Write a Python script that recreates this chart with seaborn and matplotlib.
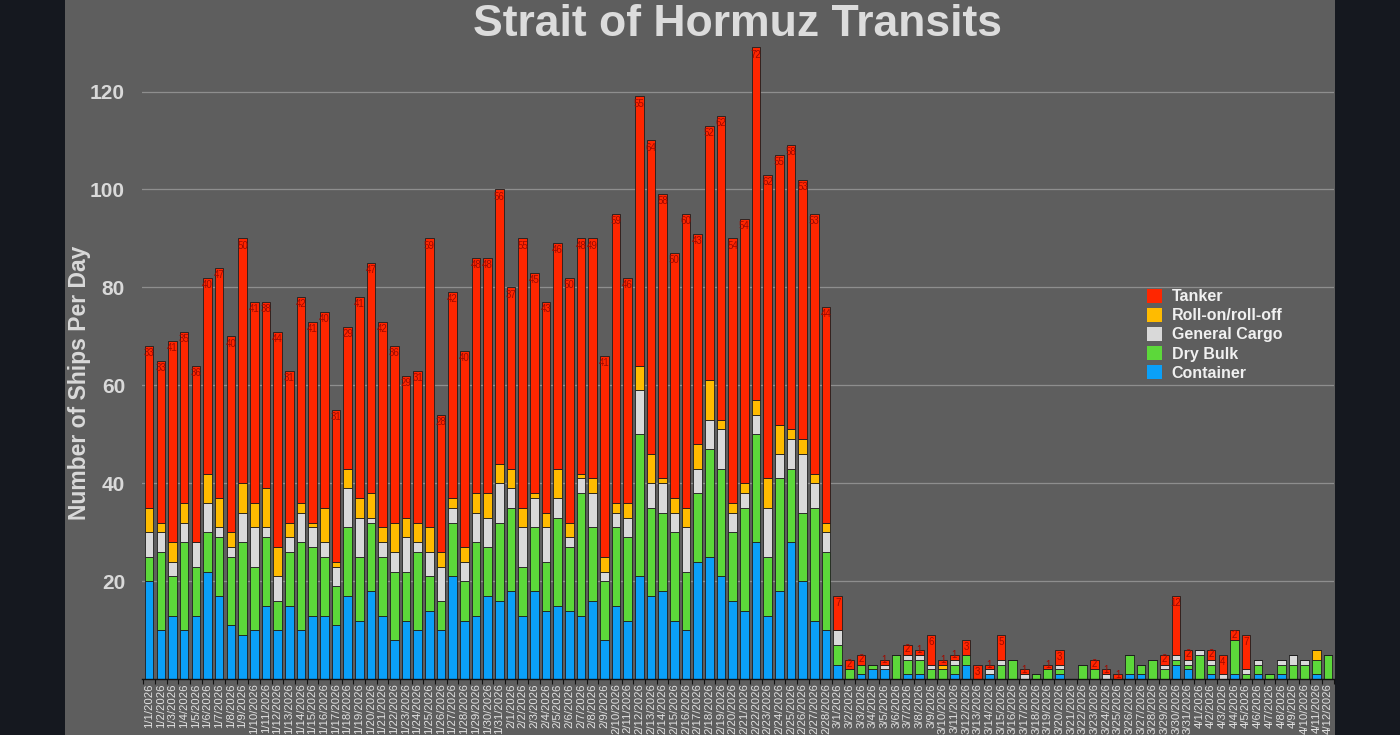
import matplotlib
matplotlib.use('Agg')
import matplotlib.pyplot as plt
from matplotlib.patches import Patch, Rectangle
import numpy as np
import pandas as pd
import seaborn as sns

# Days 1/1/2026 .. 4/12/2026
dates = pd.date_range('2026-01-01', '2026-04-12', freq='D')
date_labels = [f"{d.month}/{d.day}/{d.year}" for d in dates]

# ships per day by type
container = [20, 10, 13, 10, 13, 22, 17, 11, 9, 10, 15, 10, 15, 10, 13, 13, 11, 17, 12, 18,
             13, 8, 12, 10, 14, 10, 21, 12, 13, 17, 16,
             18, 13, 18, 14, 15, 14, 13, 16, 8, 15, 12, 21, 17, 18, 12, 10, 24, 25, 21, 16,
             14, 28, 13, 18, 28, 20, 12, 10,
             3, 0, 1, 2, 2, 0, 1, 1, 0, 0, 1, 3, 0, 1, 0, 0, 0, 0, 0, 1, 0, 0, 0, 0, 0, 1,
             1, 0, 0, 3, 2,
             0, 1, 0, 1, 0, 1, 0, 1, 0, 0, 1, 0]
dry_bulk = [5, 16, 8, 18, 10, 8, 12, 14, 19, 13, 14, 6, 11, 18, 14, 12, 8, 14, 13, 14,
            12, 14, 10, 16, 7, 6, 11, 8, 15, 10, 16,
            17, 10, 13, 10, 18, 13, 25, 15, 12, 16, 17, 29, 18, 16, 18, 12, 14, 22, 22, 14,
            21, 22, 12, 23, 15, 14, 23, 16,
            4, 2, 2, 1, 0, 5, 3, 3, 2, 2, 2, 2, 0, 0, 3, 4, 0, 1, 2, 1, 0, 3, 2, 0, 0, 4,
            2, 4, 2, 1, 1,
            5, 2, 0, 7, 1, 2, 1, 2, 3, 3, 3, 5]
general_cargo = [5, 4, 3, 4, 5, 6, 2, 2, 6, 8, 2, 5, 3, 6, 4, 3, 4, 8, 8, 1,
                 3, 4, 7, 2, 5, 7, 3, 4, 6, 6, 8,
                 4, 8, 6, 7, 4, 2, 3, 7, 2, 3, 4, 9, 5, 6, 4, 9, 5, 6, 8, 4,
                 3, 4, 10, 5, 6, 12, 5, 4,
                 3, 0, 0, 0, 1, 0, 1, 1, 1, 0, 1, 0, 0, 1, 1, 0, 1, 0, 0, 1, 0, 0, 0, 1, 0, 0,
                 0, 0, 1, 1, 1,
                 1, 1, 1, 0, 1, 1, 0, 1, 2, 1, 0, 0]
roro = [5, 2, 4, 4, 0, 6, 6, 3, 6, 5, 8, 6, 3, 2, 1, 7, 1, 4, 4, 5,
        3, 6, 4, 4, 5, 3, 2, 3, 4, 5, 4,
        4, 4, 1, 3, 6, 3, 1, 3, 3, 2, 3, 5, 6, 1, 3, 4, 5, 8, 2, 2,
        2, 3, 6, 6, 2, 3, 2, 2,
        0, 0, 0, 0, 0, 0, 0, 0, 0, 1, 0, 0, 0, 0, 0, 0, 0, 0, 0, 0, 0, 0, 0, 0, 0, 0,
        0, 0, 0, 0, 0,
        0, 0, 0, 0, 0, 0, 0, 0, 0, 0, 2, 0]
tanker = [33, 33, 41, 35, 36, 40, 47, 40, 50, 41, 38, 44, 31, 42, 41, 40, 31, 29, 41, 47,
          42, 36, 29, 31, 59, 28, 42, 40, 48, 48, 56,
          37, 55, 45, 43, 46, 50, 48, 49, 41, 59, 46, 55, 64, 58, 50, 60, 43, 52, 62, 54,
          54, 72, 62, 55, 58, 53, 53, 44,
          7, 2, 2, 0, 1, 0, 2, 1, 6, 1, 1, 3, 3, 1, 5, 0, 1, 0, 1, 3, 0, 0, 2, 1, 1, 0,
          0, 0, 2, 12, 2,
          0, 2, 4, 2, 7, 0, 0, 0, 0, 0, 0, 0]

categories = ['Tanker', 'Roll-on/roll-off', 'General Cargo', 'Dry Bulk', 'Container']
palette = {'Tanker': '#ff2600', 'Roll-on/roll-off': '#ffbb00', 'General Cargo': '#d9d9d9',
           'Dry Bulk': '#5cd83a', 'Container': '#0aa0f8'}

series = {'Tanker': tanker, 'Roll-on/roll-off': roro, 'General Cargo': general_cargo,
          'Dry Bulk': dry_bulk, 'Container': container}
day = np.arange(len(dates))
df = pd.concat([pd.DataFrame({'day': day, 'ships': vals, 'type': name})
                for name, vals in series.items()], ignore_index=True)

plt.rcParams['font.family'] = ['Liberation Sans', 'DejaVu Sans']

fig = plt.figure(figsize=(14, 7.35), dpi=100, facecolor='#15181f')
fig.patches.append(Rectangle((65 / 1400, 0), 1270 / 1400, 1, transform=fig.transFigure,
                             facecolor='#5e5e5e', edgecolor='none', zorder=-1))
ax = fig.add_axes([0.1012, 0.0758, 0.8517, 0.893])
ax.set_facecolor('#5e5e5e')

sns.histplot(data=df, x='day', weights='ships', hue='type', hue_order=categories,
             multiple='stack', discrete=True, shrink=0.74, palette=palette,
             edgecolor='#1e1e1e', linewidth=0.6, alpha=1, legend=False, ax=ax)

ax.set_xlim(-0.64, 101.53)
ax.set_ylim(0, 134)

# tanker counts on top of each bar
totals = np.sum([container, dry_bulk, general_cargo, roro, tanker], axis=0)
for i, (t, top) in enumerate(zip(tanker, totals)):
    if t > 0:
        off = min(1.45, 0.85 * t - 0.8)
        ax.text(i, top - off, str(t), ha='center', va='center', fontsize=7,
                color='#a00a00', zorder=5)

ax.set_xticks(day)
ax.set_xticklabels(date_labels, rotation=90, fontsize=8.2, color='#e2e2e2')
ax.set_xticks(np.arange(-0.5, len(day), 1), minor=True)
ax.tick_params(axis='x', which='major', length=0, pad=3)
ax.tick_params(axis='x', which='minor', length=3.5, width=0.8, color='#111111')

ax.set_yticks([20, 40, 60, 80, 100, 120])
ax.set_yticklabels(['20', '40', '60', '80', '100', '120'], fontsize=15,
                   fontweight='bold', color='#d9d9d9')
ax.tick_params(axis='y', length=0, pad=12)
ax.yaxis.grid(True, color='#8e8e8e', linewidth=0.9)
ax.xaxis.grid(False)
ax.set_axisbelow(True)

for s in ['top', 'right', 'left']:
    ax.spines[s].set_visible(False)
ax.spines['bottom'].set_color('#111111')
ax.spines['bottom'].set_linewidth(1)

ax.set_xlabel('')
ax.set_ylabel('Number of Ships Per Day', fontsize=16.5, fontweight='bold', color='#d9d9d9')
ax.yaxis.set_label_coords(-0.0425, 0.452)

fig.text(0.527, 1 - 36 / 735, 'Strait of Hormuz Transits', ha='center', va='baseline',
         fontsize=32, fontweight='bold', color='#dcdcdc')

handles = [Patch(facecolor=palette[c], edgecolor='none') for c in categories]
leg = ax.legend(handles, categories, loc='upper left',
                bbox_to_anchor=(1147 / 1400, 1 - 289 / 735), bbox_transform=fig.transFigure,
                frameon=False, borderpad=0, borderaxespad=0, handlelength=0.95,
                handleheight=0.95, handletextpad=0.6, labelspacing=0.23,
                prop={'size': 11.5, 'weight': 'bold'})
for t in leg.get_texts():
    t.set_color('#f0f0f0')

fig.savefig('out.png', dpi=100, facecolor=fig.get_facecolor())
